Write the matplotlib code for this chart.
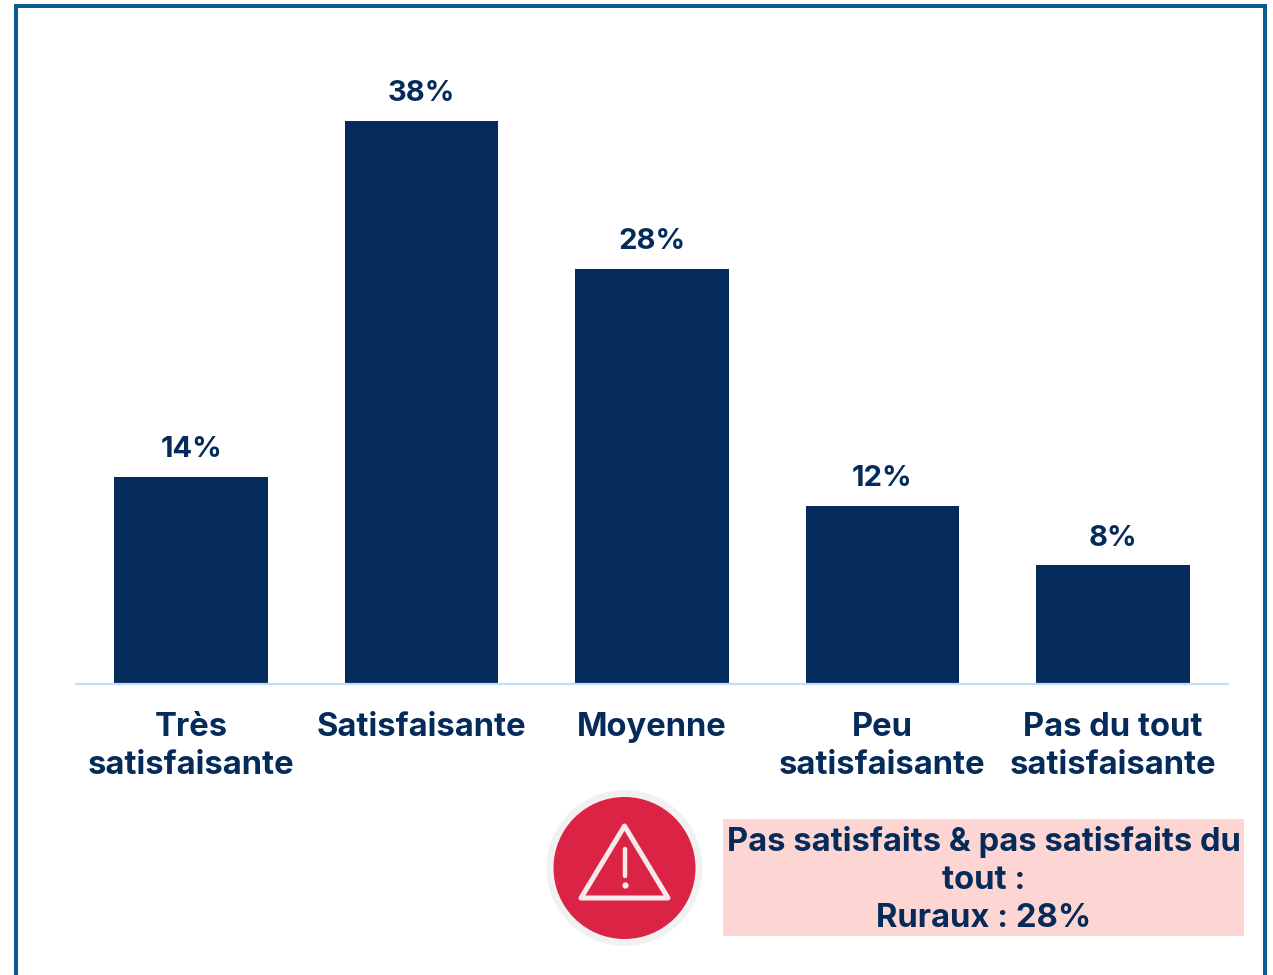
import matplotlib
matplotlib.use('Agg')
import matplotlib.pyplot as plt
from matplotlib.patches import Circle, Polygon, Rectangle

categories = ['Très\nsatisfaisante', 'Satisfaisante', 'Moyenne', 'Peu\nsatisfaisante', 'Pas du tout\nsatisfaisante']
values = [14, 38, 28, 12, 8]
value_labels = ['14%', '38%', '28%', '12%', '8%']
callout_text = 'Pas satisfaits & pas satisfaits du\ntout :\nRuraux : 28%'

navy = '#052B5A'
W, H = 1273, 975

plt.rcParams['font.family'] = ['Inter', 'DejaVu Sans']
fig = plt.figure(figsize=(W / 100, H / 100), dpi=100, facecolor='white')

# calque en pixels pour le cadre et l'encadre
bg = fig.add_axes([0, 0, 1, 1])
bg.set_xlim(0, W)
bg.set_ylim(H, 0)
bg.axis('off')
bg.plot([15.5, 15.5, 1264.5, 1264.5], [H + 5, 5.5, 5.5, H + 5], color='#0B5C8E', lw=2.9, solid_joinstyle='miter')

# graphique
ax = fig.add_axes([76 / W, 1 - 684 / H, (1228 - 76) / W, (684 - 121) / H])
ax.patch.set_alpha(0)
x = list(range(len(values)))
ax.bar(x, values, width=0.666, color=navy)
ax.set_xlim(-0.5, 4.5)
ax.set_ylim(0, 38)
for s in ['top', 'left', 'right']:
    ax.spines[s].set_visible(False)
ax.spines['bottom'].set_color('#BFDDF7')
ax.spines['bottom'].set_linewidth(1.6)
ax.set_yticks([])
ax.set_xticks(x)
ax.set_xticklabels(categories, fontsize=23.6, fontweight='bold', color=navy, linespacing=1.285)
ax.tick_params(axis='x', length=0, pad=20.5)
for i, v in enumerate(values):
    ax.annotate(value_labels[i], (i, v), xytext=(0, 10), textcoords='offset points', ha='center', va='bottom',
                fontsize=21, fontweight='bold', color=navy, annotation_clip=False)

# icone d'alerte
bg.add_patch(Circle((624.5, 868), 78, color='#F1F1F1', lw=0))
bg.add_patch(Circle((624.5, 868), 71, color='#DB2445', lw=0))
bg.add_patch(Polygon([(624.5, 826), (668, 898), (581, 898)], closed=True, fill=False, ec='#F6E9EA', lw=3.6, joinstyle='round'))
bg.plot([624.5, 624.5], [849, 876], color='#F6E9EA', lw=3.2, solid_capstyle='round')
bg.plot([624.5], [884.5], 'o', color='#F6E9EA', ms=4.5, mew=0)

# encadre
bg.add_patch(Rectangle((723, 819), 521, 117, color='#FDD5D3', lw=0))
bg.text(984, 880, callout_text, ha='center', va='center', fontsize=23.6, fontweight='bold', color=navy, linespacing=1.285)

fig.savefig('out.png', dpi=100)
